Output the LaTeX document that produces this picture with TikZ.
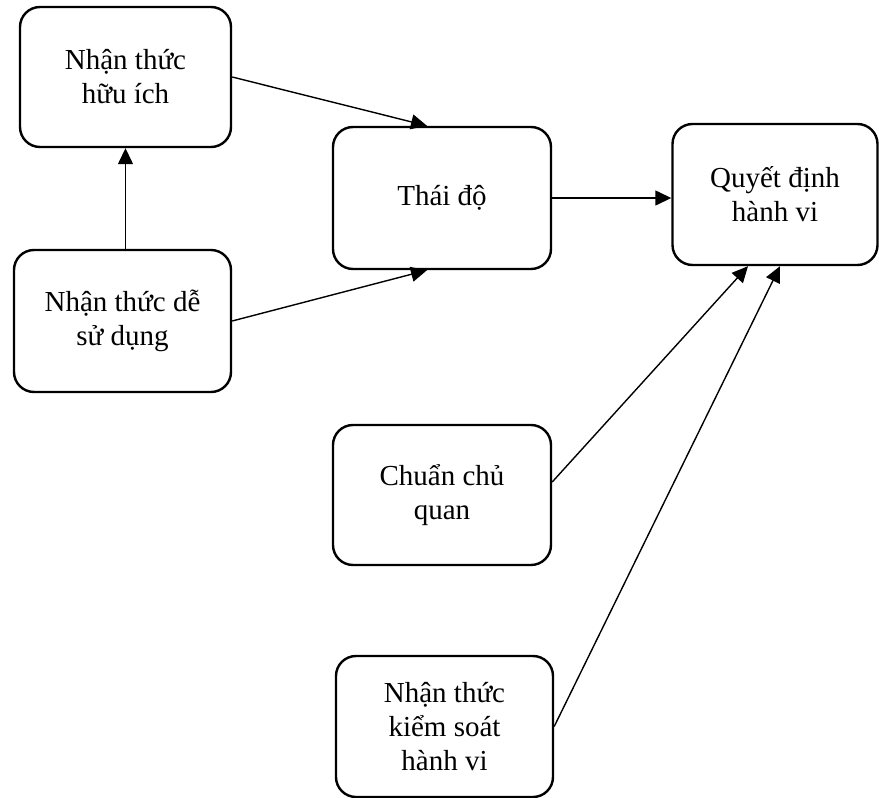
\documentclass[tikz,border=0pt]{standalone}
\usepackage{fontspec}
\setmainfont{Liberation Serif}
\usetikzlibrary{arrows.meta}
\begin{document}
\begin{tikzpicture}[x=1pt,y=-1pt,
  box/.style={draw, line width=2.4pt, rounded corners=20pt, align=center, inner sep=0pt,
    font=\fontsize{29}{34}\selectfont},
  conn/.style={line width=1.4pt, -{Triangle[length=16pt,width=15pt]}}]
\useasboundingbox (0,0) rectangle (879,798);
\node[box, minimum width=211pt, minimum height=140pt] (A) at (125.5,77) {Nhận thức\\hữu ích};
\node[box, minimum width=217pt, minimum height=142pt] (B) at (122.5,321) {Nhận thức dễ\\sử dụng};
\node[box, minimum width=218pt, minimum height=142pt] (C) at (442,198) {Thái độ};
\node[box, minimum width=205pt, minimum height=141pt] (D) at (775,194.5) {Quyết định\\hành vi};
\node[box, minimum width=218pt, minimum height=140pt] (E) at (442,495) {Chuẩn chủ\\quan};
\node[box, minimum width=217pt, minimum height=141pt] (F) at (444.5,726.5) {Nhận thức\\kiểm soát\\hành vi};
\draw[conn] (A.south |- B.north) -- (A.south);
\draw[conn] (A.east) -- ([xshift=-15pt]C.north);
\draw[conn] (B.east) -- ([xshift=-15pt]C.south);
\draw[conn] (C.east) -- (C.east -| D.west);
\draw[conn] ([yshift=13pt]E.east) -- ([xshift=-27pt]D.south);
\draw[conn] (F.east) -- ([xshift=5pt]D.south);
\end{tikzpicture}
\end{document}
